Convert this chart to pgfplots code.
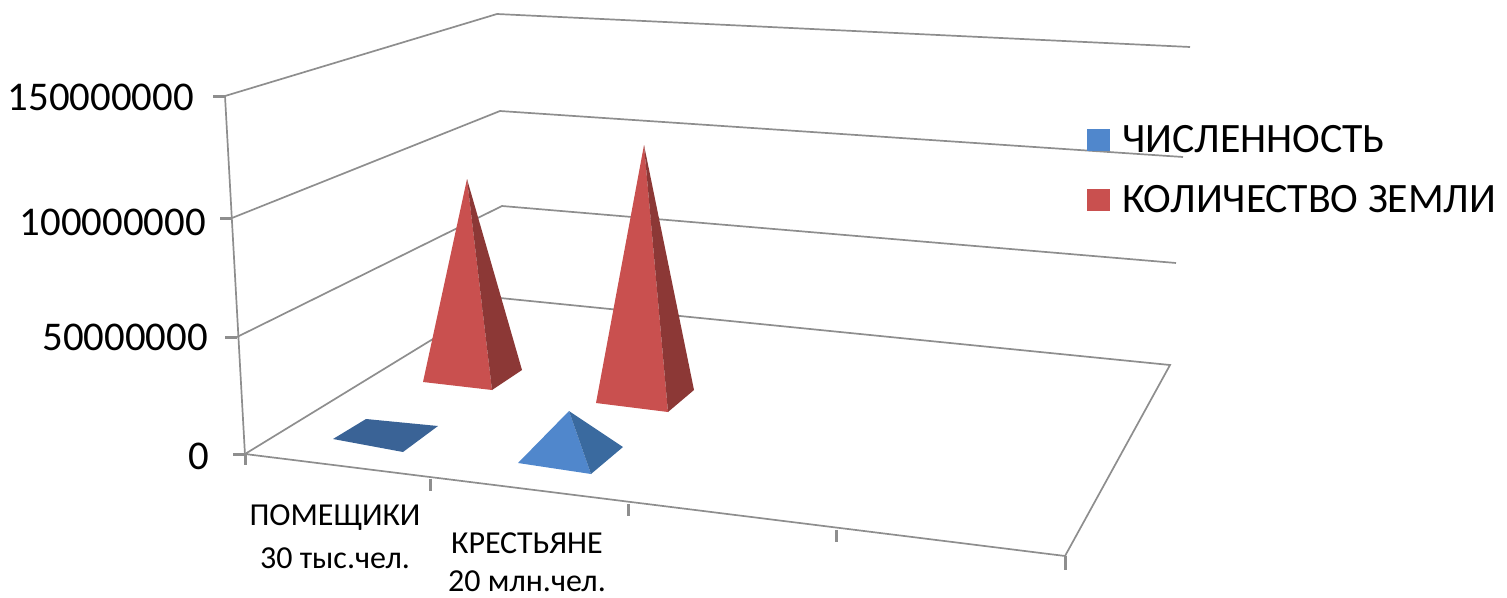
\documentclass[border=0pt]{standalone}
\usepackage{fontspec}
\setmainfont{Carlito}
\usepackage{pgfplots}
\pgfplotsset{compat=1.18}
\definecolor{gridg}{HTML}{8E8E8E}
\definecolor{redface}{HTML}{C9504F}
\definecolor{redside}{HTML}{8C3836}
\definecolor{blueface}{HTML}{5087CC}
\definecolor{blueside}{HTML}{3A6A9F}
\definecolor{blueflat}{HTML}{3A6396}
\pgfplotsset{gl/.style={gridg,line width=1.7pt,forget plot},tk/.style={gridg,line width=3pt,forget plot},
 pf/.style={fill=#1,draw=none,forget plot}}
\tikzset{lab/.style={font=\fontsize{40.8}{41}\selectfont,anchor=east,inner sep=0pt},
 cat/.style={font=\fontsize{32}{32}\selectfont,inner sep=0pt}}
\begin{document}
\begin{tikzpicture}
\begin{axis}[
  scale only axis,width=1507pt,height=597pt,
  xmin=0,xmax=1507,ymin=0,ymax=597,y dir=reverse,
  hide axis,clip=false,
  legend style={at={(axis cs:1087,123)},anchor=north west,draw=none,fill=none,
    font=\fontsize{41.8}{42}\selectfont,row sep=28pt,inner sep=0pt},
  legend cell align=left,
  legend image code/.code={\fill[#1] (0pt,-11pt) rectangle (23pt,11pt);\path (33pt,0pt);},
]
% keeps the page at the full picture size
\addplot[draw=none,forget plot] coordinates {(0,0)(1507,597)};
% walls and floor, in picture coordinates (3-D perspective projected)
\addplot[gl] coordinates {(245,455)(225,96)(497,14)(1190,47)};
\addplot[gl] coordinates {(232,218)(500,111)(1183,157)};
\addplot[gl] coordinates {(237,337)(502,206)(1176,263)};
\addplot[gl] coordinates {(245,454)(500,298)(1170,365)(1065,556)(245,454)};
% tick marks
\addplot[tk] coordinates {(213,96)(225,96)};
\addplot[tk] coordinates {(220,218)(232,218)};
\addplot[tk] coordinates {(225,337)(237,337)};
\addplot[tk] coordinates {(233,454)(245,454)};
\addplot[tk] coordinates {(245,454)(245,465)};
\addplot[tk] coordinates {(430,479)(430,491)};
\addplot[tk] coordinates {(628,504)(628,516)};
\addplot[tk] coordinates {(836,530)(836,542)};
\addplot[tk] coordinates {(1065,556)(1065,570)};
% pyramids
\addplot[pf=blueflat] coordinates {(333,439)(366,419)(438,426)(403,452)} --cycle;
\addplot[fill=blueface,draw=none] coordinates {(569,411)(518,463)(591,474)} --cycle;
\addlegendentry{ЧИСЛЕННОСТЬ}
\addplot[pf=blueside] coordinates {(569,411)(591,474)(623,447)} --cycle;
\addplot[fill=redface,draw=none] coordinates {(467,179)(423,382)(492,390)} --cycle;
\addlegendentry{КОЛИЧЕСТВО ЗЕМЛИ}
\addplot[pf=redside] coordinates {(467,179)(492,390)(522,370)} --cycle;
\addplot[pf=redface] coordinates {(644,145)(596,403)(668,412)} --cycle;
\addplot[pf=redside] coordinates {(644,145)(668,412)(694,390)} --cycle;
% labels
\node[lab] at (axis cs:194,97) {150000000};
\node[lab] at (axis cs:206,222) {100000000};
\node[lab] at (axis cs:208,337) {50000000};
\node[lab] at (axis cs:209,456) {0};
\node[cat] at (axis cs:335,518) {ПОМЕЩИКИ};
\node[cat] at (axis cs:335,558) {30 тыс.чел.};
\node[cat] at (axis cs:527,543) {КРЕСТЬЯНЕ};
\node[cat] at (axis cs:527,581) {20 млн.чел.};
\end{axis}
\end{tikzpicture}
\end{document}
